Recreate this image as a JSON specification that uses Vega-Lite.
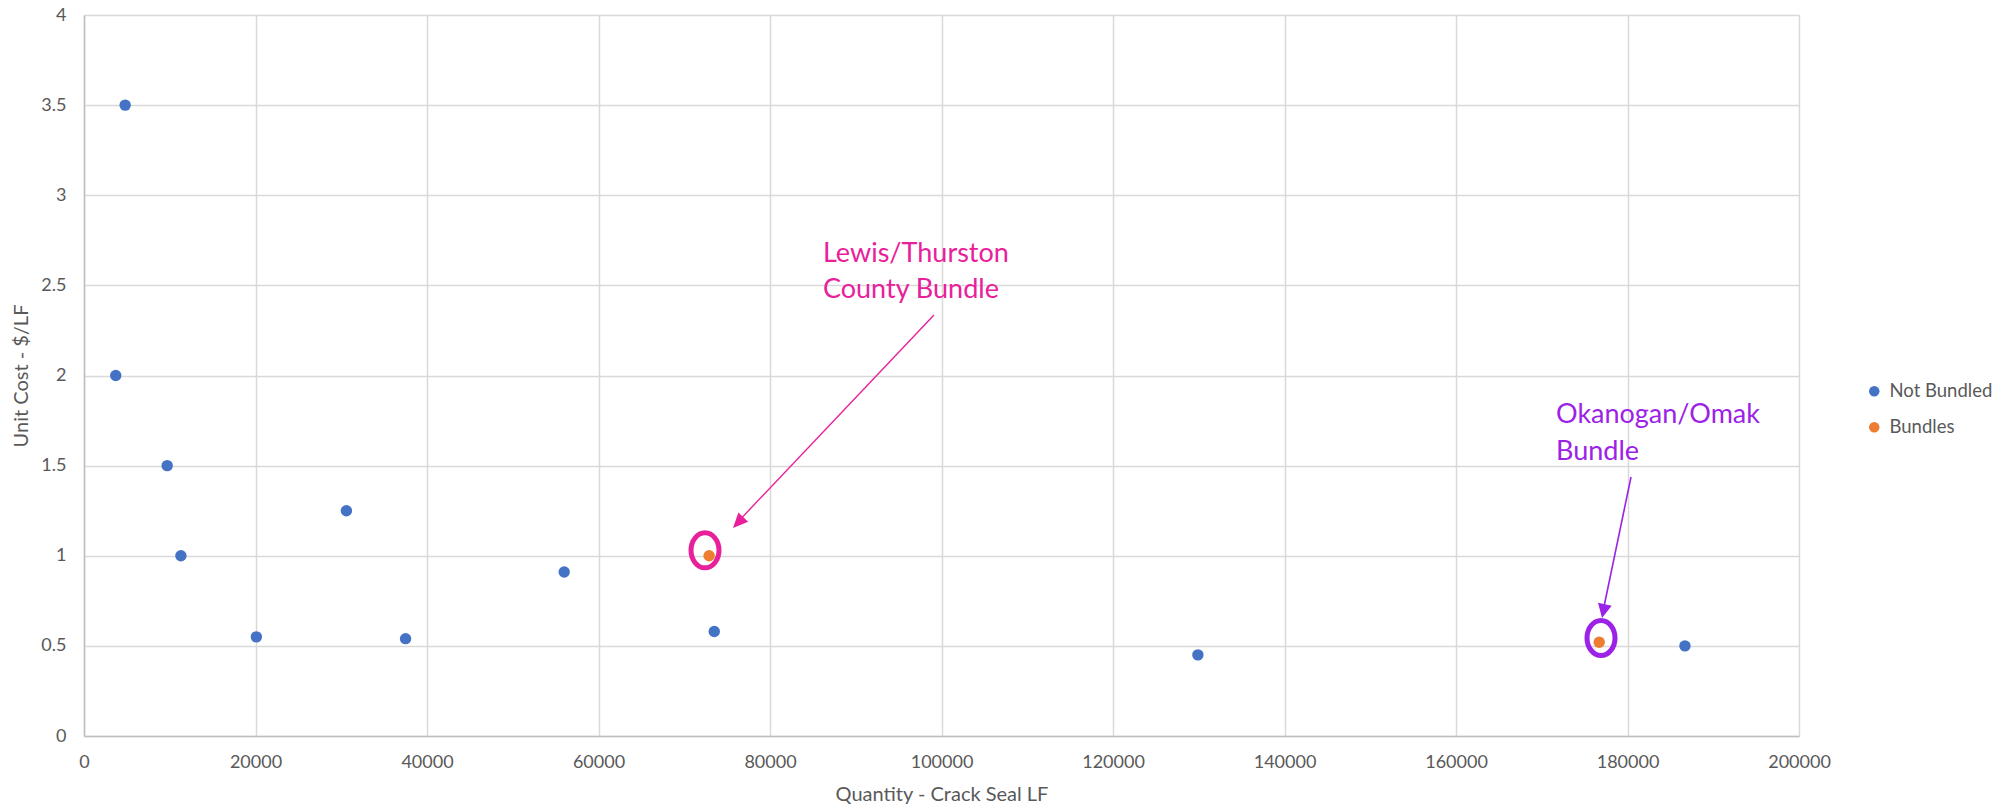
{
  "$schema": "https://vega.github.io/schema/vega-lite/v6.json",
  "autosize": {"type": "none"},
  "padding": {"left": 84, "top": 15, "right": 198, "bottom": 71},
  "width": 1715,
  "height": 721,
  "background": "white",
  "config": {
    "view": {"stroke": null},
    "font": "Lato",
    "axis": {
      "gridColor": "#D9D9D9",
      "gridWidth": 1.5,
      "domainColor": "#BFBFBF",
      "domainWidth": 1.5,
      "ticks": false,
      "labelColor": "#595959",
      "titleColor": "#595959",
      "labelFont": "Lato",
      "titleFont": "Lato",
      "labelFontSize": 18,
      "titleFontSize": 20,
      "titleFontWeight": "normal"
    },
    "legend": {
      "labelColor": "#595959",
      "labelFont": "Lato",
      "labelFontSize": 18.5
    }
  },
  "layer": [
    {
      "data": {"values": [
        {"qty": 4800, "cost": 3.5, "series": "Not Bundled"},
        {"qty": 3700, "cost": 2.0, "series": "Not Bundled"},
        {"qty": 9700, "cost": 1.5, "series": "Not Bundled"},
        {"qty": 11300, "cost": 1.0, "series": "Not Bundled"},
        {"qty": 20100, "cost": 0.55, "series": "Not Bundled"},
        {"qty": 30600, "cost": 1.25, "series": "Not Bundled"},
        {"qty": 37500, "cost": 0.54, "series": "Not Bundled"},
        {"qty": 56000, "cost": 0.91, "series": "Not Bundled"},
        {"qty": 73500, "cost": 0.58, "series": "Not Bundled"},
        {"qty": 129900, "cost": 0.45, "series": "Not Bundled"},
        {"qty": 186700, "cost": 0.5, "series": "Not Bundled"},
        {"qty": 72900, "cost": 1.0, "series": "Bundles"},
        {"qty": 176700, "cost": 0.52, "series": "Bundles"}
      ]},
      "mark": {"type": "point", "filled": true, "size": 130, "opacity": 1, "shape": "circle"},
      "encoding": {
        "x": {"field": "qty", "type": "quantitative",
              "scale": {"domain": [0, 200000], "nice": false},
              "axis": {"title": "Quantity - Crack Seal LF", "values": [0,20000,40000,60000,80000,100000,120000,140000,160000,180000,200000],
                       "format": "d", "labelPadding": 17, "titlePadding": 13, "labelFlush": false}},
        "y": {"field": "cost", "type": "quantitative",
              "scale": {"domain": [0, 4], "nice": false},
              "axis": {"title": "Unit Cost - $/LF", "values": [0,0.5,1,1.5,2,2.5,3,3.5,4],
                       "format": "~g", "labelPadding": 18, "titlePadding": 9, "labelFlush": false}},
        "color": {"field": "series", "type": "nominal",
                  "scale": {"domain": ["Not Bundled", "Bundles"], "range": ["#4472C4", "#ED7D31"]},
                  "legend": {"title": null, "orient": "none", "legendX": 1781, "legendY": 367,
                             "symbolSize": 110, "symbolType": "circle", "rowPadding": 17, "labelOffset": 6, "padding": 0}}
      }
    },
    {
      "data": {"values": [{"qty": 72420, "cost": 1.03}]},
      "mark": {"type": "point", "filled": false, "shape": "M-0.8,0 A0.8,1 0 1,0 0.8,0 A0.8,1 0 1,0 -0.8,0 Z",
               "size": 1225, "stroke": "#E9209B", "strokeWidth": 5, "opacity": 1},
      "encoding": {"x": {"field": "qty", "type": "quantitative"}, "y": {"field": "cost", "type": "quantitative"}}
    },
    {
      "data": {"values": [{"qty": 176910, "cost": 0.544}]},
      "mark": {"type": "point", "filled": false, "shape": "M-0.8,0 A0.8,1 0 1,0 0.8,0 A0.8,1 0 1,0 -0.8,0 Z",
               "size": 1225, "stroke": "#9B22E6", "strokeWidth": 5, "opacity": 1},
      "encoding": {"x": {"field": "qty", "type": "quantitative"}, "y": {"field": "cost", "type": "quantitative"}}
    },
    {
      "data": {"values": [{"qty": 99125, "cost": 2.336}, {"qty": 75900, "cost": 1.17}]},
      "mark": {"type": "line", "stroke": "#E9209B", "strokeWidth": 1.4},
      "encoding": {"x": {"field": "qty", "type": "quantitative"}, "y": {"field": "cost", "type": "quantitative"}}
    },
    {
      "data": {"values": [{"qty": 180410, "cost": 1.437}, {"qty": 177050, "cost": 0.67}]},
      "mark": {"type": "line", "stroke": "#9B22E6", "strokeWidth": 1.6},
      "encoding": {"x": {"field": "qty", "type": "quantitative"}, "y": {"field": "cost", "type": "quantitative"}}
    },
    {
      "data": {"values": [{"qty": 75685, "cost": 1.154}]},
      "mark": {"type": "point", "filled": true, "shape": "M0,0 L-0.45,1 L0.45,1 Z", "size": 900, "angle": 223.3,
               "fill": "#E9209B", "opacity": 1},
      "encoding": {"x": {"field": "qty", "type": "quantitative"}, "y": {"field": "cost", "type": "quantitative"}}
    },
    {
      "data": {"values": [{"qty": 177030, "cost": 0.655}]},
      "mark": {"type": "point", "filled": true, "shape": "M0,0 L-0.5,1 L0.5,1 Z", "size": 784, "angle": 191.7,
               "fill": "#9B22E6", "opacity": 1},
      "encoding": {"x": {"field": "qty", "type": "quantitative"}, "y": {"field": "cost", "type": "quantitative"}}
    },
    {
      "data": {"values": [{"qty": 86180, "cost": 2.63, "label": "Lewis/Thurston\nCounty Bundle"}]},
      "mark": {"type": "text", "align": "left", "baseline": "alphabetic", "lineBreak": "\n", "lineHeight": 36,
               "fontSize": 27, "font": "Lato", "color": "#E9209B"},
      "encoding": {"x": {"field": "qty", "type": "quantitative"}, "y": {"field": "cost", "type": "quantitative"},
                   "text": {"field": "label"}}
    },
    {
      "data": {"values": [{"qty": 171664, "cost": 1.736, "label": "Okanogan/Omak\nBundle"}]},
      "mark": {"type": "text", "align": "left", "baseline": "alphabetic", "lineBreak": "\n", "lineHeight": 37,
               "fontSize": 27, "font": "Lato", "color": "#9B22E6"},
      "encoding": {"x": {"field": "qty", "type": "quantitative"}, "y": {"field": "cost", "type": "quantitative"},
                   "text": {"field": "label"}}
    }
  ]
}
